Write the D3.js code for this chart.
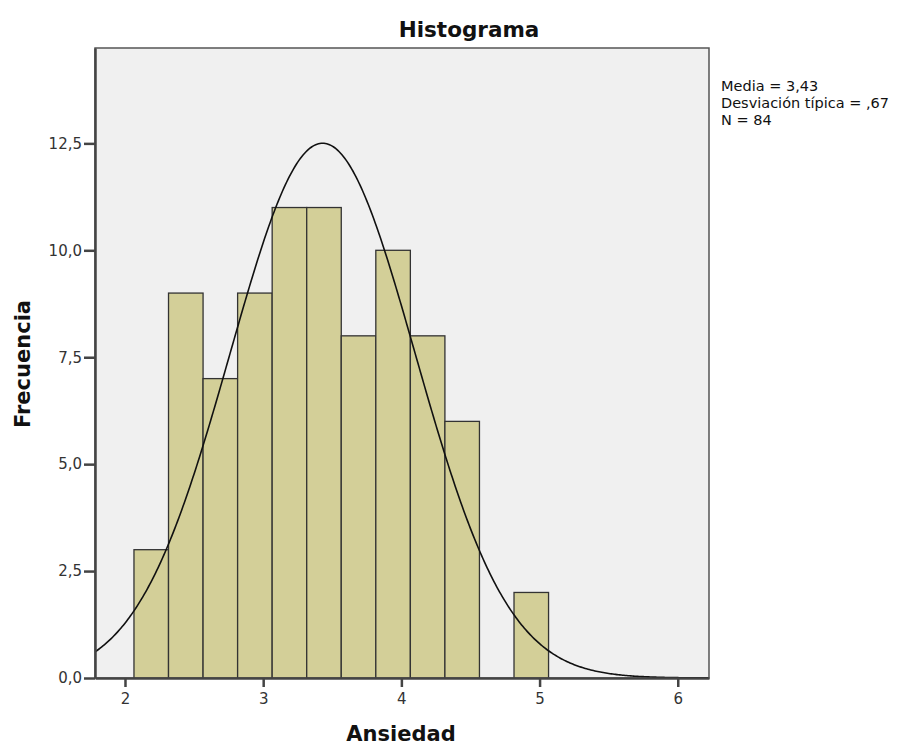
<!DOCTYPE html>
<html>
<head>
<meta charset="utf-8">
<script src="https://cdn.jsdelivr.net/npm/d3@7/dist/d3.min.js"></script>
<style>
  body { margin: 0; background: #fff; }
  svg { display: block; font-family: 'DejaVu Sans', sans-serif; }
</style>
</head>
<body>
<svg id="chart" width="909" height="745"></svg>
<script>
'use strict';

// bins of width 0.25, starting at 2.065
var binStarts = [2.065, 2.315, 2.565, 2.815, 3.065, 3.315, 3.565, 3.815, 4.065, 4.315, 4.565, 4.815];
var binWidth = 0.25;
var counts = [3, 9, 7, 9, 11, 11, 8, 10, 8, 6, 0, 2];

var xTicks = [2, 3, 4, 5, 6];
var yTicks = [0, 2.5, 5, 7.5, 10, 12.5];

var mean = 3.43, sd = 0.67, n = 84;
var statsLines = ['Media = 3,43', 'Desviación típica = ,67', 'N = 84'];

var plot = { left: 95, top: 48, right: 709, bottom: 678 };

var svg = d3.select('#chart');

var x = d3.scaleLinear().domain([1.783, 6.226]).range([plot.left, plot.right]);
var y = d3.scaleLinear().domain([0, 14.73]).range([plot.bottom, plot.top]);

var comma = function (v) { return d3.format('.1f')(v).replace('.', ','); };

// plot background + thin frame
svg.append('rect')
    .attr('x', plot.left).attr('y', plot.top)
    .attr('width', plot.right - plot.left).attr('height', plot.bottom - plot.top)
    .attr('fill', '#f0f0f0').attr('stroke', '#555').attr('stroke-width', 1.5);

svg.append('clipPath').attr('id', 'plot-clip').append('rect')
    .attr('x', plot.left).attr('y', plot.top)
    .attr('width', plot.right - plot.left).attr('height', plot.bottom - plot.top);

// bars
svg.append('g').selectAll('rect')
    .data(counts.map(function (c, i) { return { x0: binStarts[i], count: c }; }).filter(function (d) { return d.count > 0; }))
    .enter().append('rect')
    .attr('x', function (d) { return x(d.x0); })
    .attr('y', function (d) { return y(d.count); })
    .attr('width', function (d) { return x(d.x0 + binWidth) - x(d.x0); })
    .attr('height', function (d) { return y(0) - y(d.count); })
    .attr('fill', '#d3cf98')
    .attr('stroke', '#333')
    .attr('stroke-width', 1.3);

// fitted normal curve (scaled to counts per bin)
var curveXs = d3.range(1.78, 6.23, 0.01);
var normal = function (v) {
    return n * binWidth / (sd * Math.sqrt(2 * Math.PI)) * Math.exp(-0.5 * Math.pow((v - mean) / sd, 2));
};
svg.append('path')
    .datum(curveXs)
    .attr('clip-path', 'url(#plot-clip)')
    .attr('fill', 'none')
    .attr('stroke', '#111')
    .attr('stroke-width', 1.6)
    .attr('d', d3.line().x(function (d) { return x(d); }).y(function (d) { return y(normal(d)); }));

// axes
var xAxis = svg.append('g')
    .attr('transform', 'translate(0,' + plot.bottom + ')')
    .call(d3.axisBottom(x).tickValues(xTicks).tickSizeInner(9).tickSizeOuter(0).tickPadding(6).tickFormat(d3.format('d')));
var yAxis = svg.append('g')
    .attr('transform', 'translate(' + plot.left + ',0)')
    .call(d3.axisLeft(y).tickValues(yTicks).tickSizeInner(11).tickSizeOuter(0).tickPadding(2).tickFormat(comma));

[xAxis, yAxis].forEach(function (ax) {
    ax.select('.domain').attr('stroke', '#444').attr('stroke-width', 2.5);
    ax.selectAll('.tick line').attr('stroke', '#444').attr('stroke-width', 2.5);
    ax.selectAll('.tick text').attr('fill', '#333').attr('font-size', 15).attr('font-family', "'DejaVu Sans', sans-serif");
});

// title and axis labels
svg.append('text')
    .attr('x', 469).attr('y', 37)
    .attr('text-anchor', 'middle')
    .style('font-size', '21.5px').style('font-weight', 'bold').attr('fill', '#111')
    .text('Histograma');

svg.append('text')
    .attr('x', 401).attr('y', 741)
    .attr('text-anchor', 'middle')
    .style('font-size', '21px').style('font-weight', 'bold').attr('fill', '#111')
    .text('Ansiedad');

svg.append('text')
    .attr('transform', 'translate(30,364) rotate(-90)')
    .attr('text-anchor', 'middle')
    .style('font-size', '21px').style('font-weight', 'bold').attr('fill', '#111')
    .text('Frecuencia');

// stats box
svg.append('g').selectAll('text')
    .data(statsLines)
    .enter().append('text')
    .attr('x', 721)
    .attr('y', function (d, i) { return 91 + i * 17; })
    .style('font-size', '14.5px').attr('fill', '#111')
    .text(function (d) { return d; });
</script>
</body>
</html>
